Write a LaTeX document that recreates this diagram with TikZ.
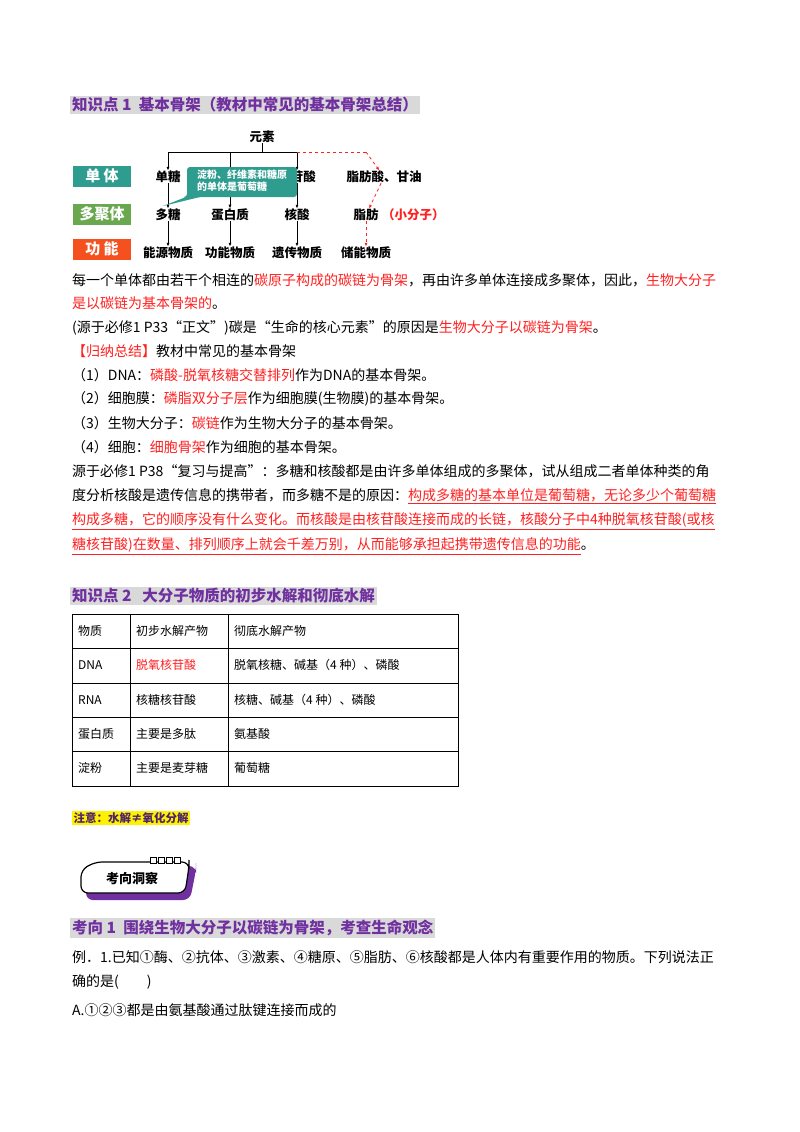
\documentclass[tikz,border=0pt]{standalone}
\usepackage{fontspec}
\setmainfont{Noto Sans CJK SC}
\usetikzlibrary{arrows.meta}
\newcommand{\myul}[1]{\underline{#1}}
\definecolor{pur}{HTML}{7030A0}
\definecolor{hg}{HTML}{D9D9D9}
\definecolor{teal1}{HTML}{2E9C8E}
\definecolor{grn}{HTML}{6AA84F}
\definecolor{org}{HTML}{F4511E}
\definecolor{rd}{HTML}{FF2020}
\begin{document}
\begin{tikzpicture}[x=1pt,y=-1pt,
  body/.style={anchor=west,inner sep=0pt,font=\fontsize{14}{16}\selectfont},
  head/.style={anchor=west,inner sep=2pt,fill=hg,text=pur,font=\fontsize{15.5}{17}\selectfont\bfseries},
  dg/.style={inner sep=0pt,font=\fontsize{12.5}{14}\selectfont\bfseries},
  lab/.style={minimum width=58pt,minimum height=21pt,inner sep=0pt,text=white,font=\fontsize{15}{17}\selectfont\bfseries},
  ar/.style={-{Latex[length=4pt,width=3pt]},line width=0.8pt},
  dar/.style={ar,rd,dashed},
  tb/.style={anchor=west,inner sep=0pt,font=\fontsize{12}{14}\selectfont}]
\useasboundingbox (0,0) rectangle (800,1132);
% heading 1
\node[head] (h1) at (70,105) {知识点 1\ \ 基本骨架（教材中常见的基本骨架总结）};
% diagram
\node[dg] (ys) at (262,137) {元素};
\node[lab,fill=teal1] (l1) at (102,176) {单\ 体};
\node[lab,fill=grn] (l2) at (102,214) {多聚体};
\node[lab,fill=org] (l3) at (102,249) {功\ 能};
\node[dg] (a1) at (168,177) {单糖};
\node[dg] (a2) at (230,177) {氨基酸};
\node[dg] (a3) at (297,177) {核苷酸};
\node[dg] (a4) at (384,177) {脂肪酸、甘油};
\node[dg] (b1) at (168,215) {多糖};
\node[dg] (b2) at (230,215) {蛋白质};
\node[dg] (b3) at (297,215) {核酸};
\node[dg] (b4) at (366,215) {脂肪};
\node[dg,anchor=west,text=rd] (b5) at (382,215) {（小分子）};
\node[dg] (c1) at (168,253) {能源物质};
\node[dg] (c2) at (230,253) {功能物质};
\node[dg] (c3) at (297,253) {遗传物质};
\node[dg] (c4) at (366,253) {储能物质};
\coordinate (j) at (262,152);
\coordinate (j1) at (168,152);
\coordinate (j2) at (230,152);
\coordinate (j3) at (297,152);
\coordinate (j4) at (366,152);
\draw[line width=0.8pt] (ys) -- (j) (j1) -- (j3);
\draw[ar] (j1) -- (a1);
\draw[ar] (j2) -- (a2);
\draw[ar] (j3) -- (a3);
\draw[rd,dashed,line width=0.8pt] (j3) -- (j4);
\draw[dar] (j4) -- (a4);
\foreach \u/\v in {a1/b1,a2/b2,a3/b3,b1/c1,b2/c2,b3/c3}{\draw[ar] (\u) -- (\v);}
\draw[dar] (a4) -- (b4);
\draw[dar] (b4) -- (c4);
% callout
\fill[teal1,rounded corners=3pt] (187,167) -- (297,167) -- (297,197) -- (200,197) [sharp corners]-- (163,206) -- (186,197) [rounded corners=3pt]-- (187,197) -- cycle;
\node[inner sep=0pt,text=white,align=left,font=\fontsize{10}{12}\selectfont\bfseries] (co) at (242,181) {淀粉、纤维素和糖原\\的单体是葡萄糖};
% paragraph
\node[body] (p1) at (72,280) {每一个单体都由若干个相连的\textcolor{rd}{碳原子构成的碳链为骨架}，再由许多单体连接成多聚体，因此，\textcolor{rd}{生物大分子}};
\node[body] (p2) at (72,303) {\textcolor{rd}{是以碳链为基本骨架的}。};
\node[body] (p3) at (72,328) {(源于必修1 P33“正文”)碳是“生命的核心元素”的原因是\textcolor{rd}{生物大分子以碳链为骨架}。};
\node[body] (p4) at (72,351) {\textcolor{rd}{【归纳总结】}教材中常见的基本骨架};
\node[body] (p5) at (72,375) {（1）DNA：\textcolor{rd}{磷酸-脱氧核糖交替排列}作为DNA的基本骨架。};
\node[body] (p6) at (72,399) {（2）细胞膜：\textcolor{rd}{磷脂双分子层}作为细胞膜(生物膜)的基本骨架。};
\node[body] (p7) at (72,423) {（3）生物大分子：\textcolor{rd}{碳链}作为生物大分子的基本骨架。};
\node[body] (p8) at (72,447) {（4）细胞：\textcolor{rd}{细胞骨架}作为细胞的基本骨架。};
\node[body] (p9) at (72,471) {源于必修1 P38“复习与提高”：多糖和核酸都是由许多单体组成的多聚体，试从组成二者单体种类的角};
\node[body] (p10) at (72,496) {度分析核酸是遗传信息的携带者，而多糖不是的原因：\textcolor{rd}{\myul{构成多糖的基本单位是葡萄糖，无论多少个葡萄糖}}};
\node[body] (p11) at (72,521) {\textcolor{rd}{\myul{构成多糖，它的顺序没有什么变化。而核酸是由核苷酸连接而成的长链，核酸分子中4种脱氧核苷酸(或核}}};
\node[body] (p12) at (72,546) {\textcolor{rd}{\myul{糖核苷酸)在数量、排列顺序上就会千差万别，从而能够承担起携带遗传信息的功能}}。};
% heading 2
\node[head] (h2) at (70,596) {知识点 2\ \ \ 大分子物质的初步水解和彻底水解};
% table
\draw[line width=0.8pt] (72,614) rectangle (458,786);
\foreach \y in {648,683,717,751}{\draw[line width=0.8pt] (72,\y) -- (458,\y);}
\draw[line width=0.8pt] (130,614) -- (130,786) (228,614) -- (228,786);
\node[tb] (t1) at (78,631) {物质};
\node[tb] (t2) at (136,631) {初步水解产物};
\node[tb] (t3) at (234,631) {彻底水解产物};
\node[tb] (t4) at (78,665) {DNA};
\node[tb,text=rd] (t5) at (136,665) {脱氧核苷酸};
\node[tb] (t6) at (234,665) {脱氧核糖、碱基（4 种）、磷酸};
\node[tb] (t7) at (78,700) {RNA};
\node[tb] (t8) at (136,700) {核糖核苷酸};
\node[tb] (t9) at (234,700) {核糖、碱基（4 种）、磷酸};
\node[tb] (t10) at (78,734) {蛋白质};
\node[tb] (t11) at (136,734) {主要是多肽};
\node[tb] (t12) at (234,734) {氨基酸};
\node[tb] (t13) at (78,768) {淀粉};
\node[tb] (t14) at (136,768) {主要是麦芽糖};
\node[tb] (t15) at (234,768) {葡萄糖};
% note
\node[anchor=west,fill=yellow,inner sep=1.5pt,text=pur!70!black,font=\fontsize{11.5}{13}\selectfont\bfseries] (nt) at (72,818) {注意：水解≠氧化分解};
% badge
\fill[pur,rounded corners=7pt] (86,872) -- (86,900) -- (190,900) -- (196,870) -- (196,866) -- (100,866) -- cycle;
\draw[line width=1.2pt,fill=white,rounded corners=7pt] (81,893) -- (185,893) -- (189,867) -- (189,862) -- (95,862) -- (81,870) -- cycle;
\foreach \x in {150,158,166,174}{\draw[line width=1pt,fill=white] (\x,857) rectangle (\x+6,863);}
\node[inner sep=0pt,font=\fontsize{13}{15}\selectfont\bfseries] (bd) at (132,878) {考向洞察};
% heading 3
\node[head] (h3) at (70,928) {考向 1\ \ 围绕生物大分子以碳链为骨架，考查生命观念};
\node[body] (q1) at (72,957) {例．1.已知①酶、②抗体、③激素、④糖原、⑤脂肪、⑥核酸都是人体内有重要作用的物质。下列说法正};
\node[body] (q2) at (72,982) {确的是(\qquad)};
\node[body] (q3) at (72,1010) {A.①②③都是由氨基酸通过肽键连接而成的};
\end{tikzpicture}
\end{document}
